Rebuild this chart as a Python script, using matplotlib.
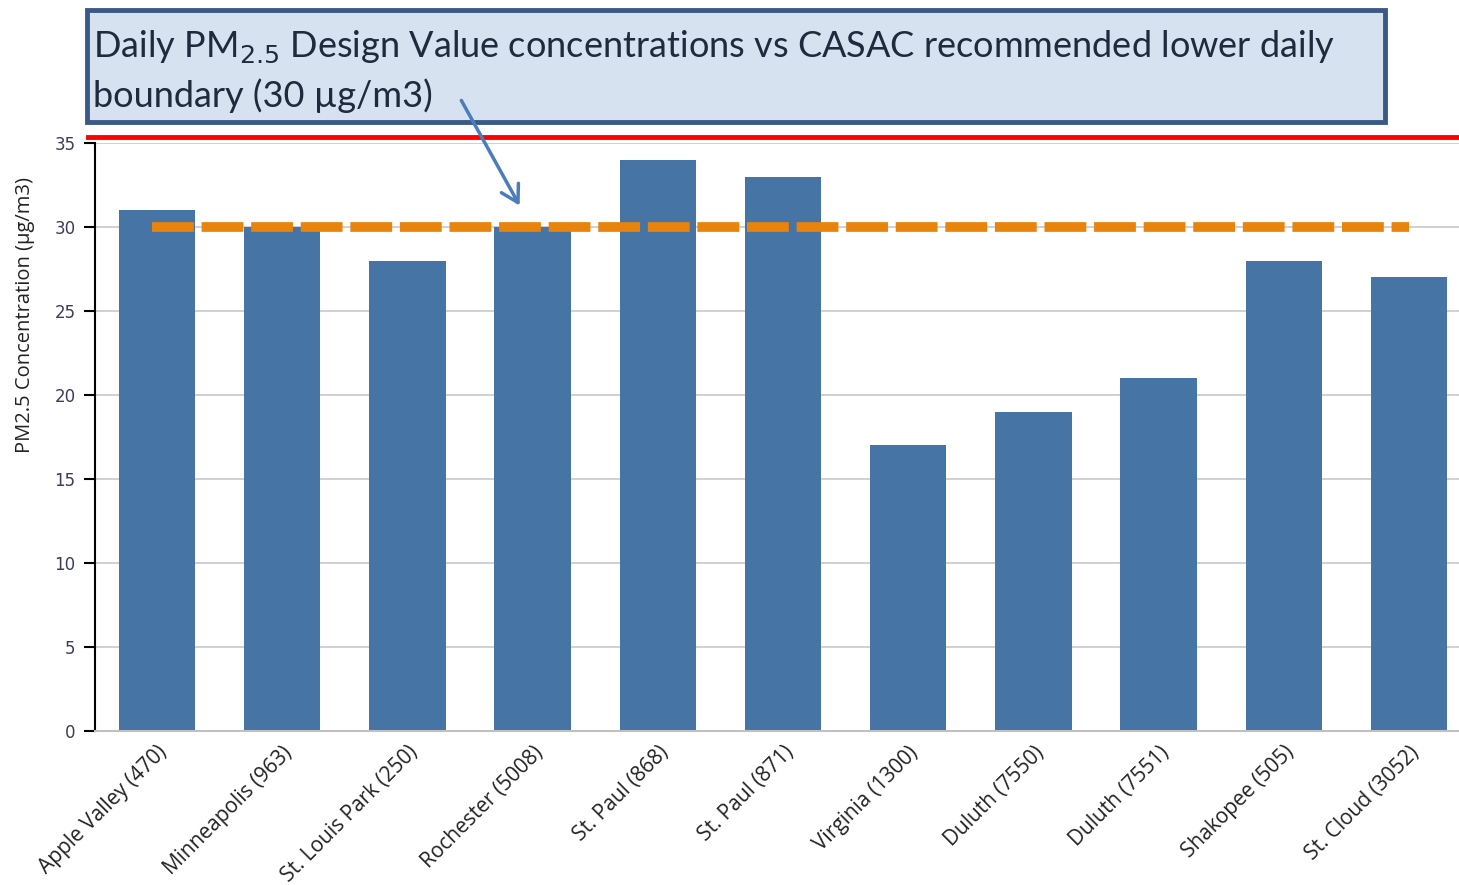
import matplotlib
matplotlib.use("Agg")
import matplotlib.pyplot as plt
from matplotlib.lines import Line2D
from matplotlib.patches import FancyArrowPatch, Rectangle

sites = ["Apple Valley (470)", "Minneapolis (963)", "St. Louis Park (250)", "Rochester (5008)",
         "St. Paul (868)", "St. Paul (871)", "Virginia (1300)", "Duluth (7550)",
         "Duluth (7551)", "Shakopee (505)", "St. Cloud (3052)"]
values = [31, 30, 28, 30, 34, 33, 17, 19, 21, 28, 27]
casac_level = 30
yticks = [0, 5, 10, 15, 20, 25, 30, 35]

W, H = 1459, 885
fig = plt.figure(figsize=(W / 100, H / 100), dpi=100)
ax = fig.add_axes([95 / W, 1 - 731 / H, 1 - 95 / W, (731 - 143) / H])

x = list(range(len(sites)))
ax.bar(x, values, width=0.61, color="#4674a5", zorder=2)
ax.set_xlim(-0.495, 10.4)
ax.set_ylim(0, 35)
ax.set_yticks(yticks)
ax.grid(axis="y", color="#c8c8c8", lw=1.2, zorder=0)
ax.set_axisbelow(True)
for s in ["top", "right"]:
    ax.spines[s].set_visible(False)
ax.spines["bottom"].set_color("#c0c0c0")
ax.spines["bottom"].set_linewidth(1.5)
ax.spines["left"].set_color("black")
ax.spines["left"].set_linewidth(1.5)
ax.tick_params(axis="y", length=8, width=1.5, labelsize=12, labelcolor="#3c3c5a", pad=6)
ax.tick_params(axis="x", length=0, pad=8)
ax.set_xticks(x)
ax.set_xticklabels(sites, rotation=45, ha="right", rotation_mode="anchor", fontsize=15,
                   family="Open Sans", color="#222222")

# CASAC dashed line
ax.plot([-0.04, 10.0], [casac_level, casac_level], color="#e8830c", lw=7,
        dashes=(4.3, 0.8), zorder=3, solid_capstyle="butt", dash_capstyle="butt")

fig.text(25 / W, 1 - 315 / H, "PM2.5 Concentration (µg/m3)", rotation=90, ha="center",
         va="center", fontsize=14.5, family="Open Sans", color="#222222")

# Red line at top
fig.add_artist(Line2D([88 / W, 1], [1 - 137 / H] * 2, color="#ff0000", lw=3.5))

# Title box
fig.add_artist(Rectangle((87 / W, 1 - 122 / H), (1385 - 87) / W, (122 - 10) / H,
                         transform=fig.transFigure, facecolor="#d6e2f0",
                         edgecolor="#3a5a86", lw=3.5, zorder=1))
fig.text(93 / W, 1 - 47 / H,
         r"Daily PM$_{2.5}$ Design Value concentrations vs CASAC recommended lower daily",
         fontsize=26, family="Lato", color="#1f2a3c", va="center", ha="left", zorder=2)
fig.text(93 / W, 1 - 96 / H, "boundary (30 µg/m3)",
         fontsize=26, family="Lato", color="#1f2a3c", va="center", ha="left", zorder=2)

# Arrow
fig.add_artist(FancyArrowPatch((460 / W, 1 - 98 / H), (521 / W, 1 - 208 / H),
                               transform=fig.transFigure,
                               arrowstyle="->,head_length=12,head_width=7",
                               color="#4a7ebb", lw=2.5, zorder=5))

fig.savefig("out.png", dpi=100)
